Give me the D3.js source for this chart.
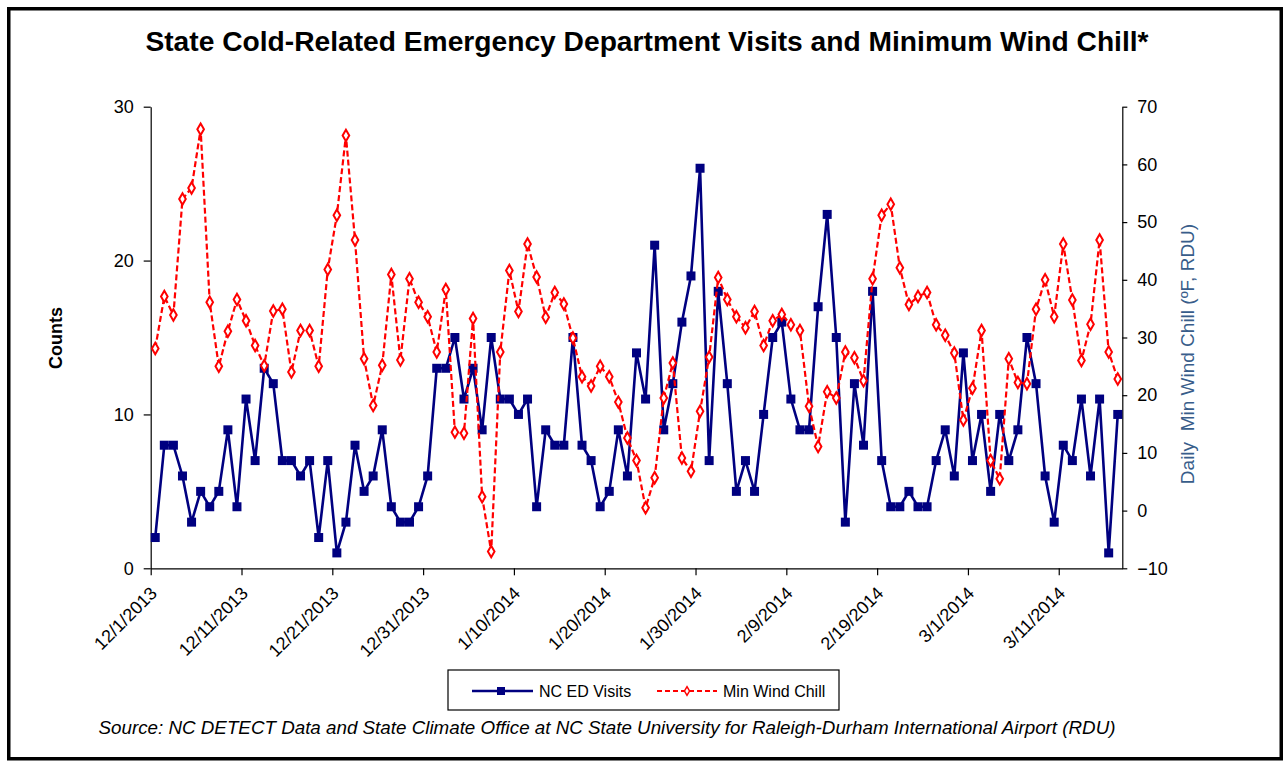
<!DOCTYPE html>
<html>
<head>
<meta charset="utf-8">
<script src="https://cdn.jsdelivr.net/npm/d3@7"></script>
<style>
  body { margin: 0; background: #fff; }
  text { font-family: "Liberation Sans", Arial, sans-serif; }
</style>
</head>
<body>
<div id="chart"></div>
<script>
var startDate = new Date(Date.UTC(2013, 11, 1));
var endDate = new Date(Date.UTC(2014, 2, 18));

var visits = [2, 8, 8, 6, 3, 5, 4, 5, 9, 4, 11, 7, 13, 12, 7, 7, 6, 7,
              2, 7, 1, 3, 8, 5, 6, 9, 4, 3, 3, 4, 6, 13, 13, 15, 11, 13,
              9, 15, 11, 11, 10, 11, 4, 9, 8, 8, 15, 8, 7, 4, 5, 9, 6,
              14, 11, 21, 9, 12, 16, 19, 26, 7, 18, 12, 5, 7, 5, 10, 15, 16, 11,
              9, 9, 17, 23, 15, 3, 12, 8, 18, 7, 4, 4, 5, 4, 4, 7, 9, 6,
              14, 7, 10, 5, 10, 7, 9, 15, 12, 6, 3, 8, 7, 11, 6, 11, 1, 10];

var windChill = [28.1, 37.1, 33.9, 54.0, 55.9, 66.1, 36.1, 25.0, 31.1, 36.6, 32.9, 28.6, 25.1, 34.6, 34.9, 24.0, 31.2, 31.2,
                 25.0, 41.8, 51.2, 65.0, 46.9, 26.3, 18.2, 25.2, 40.9, 26.1, 40.2, 36.1, 33.6, 27.5, 38.3, 13.6, 13.4, 33.3,
                 2.4, -7.1, 27.5, 41.6, 34.5, 46.2, 40.5, 33.5, 37.8, 35.8, 29.9, 23.2, 21.6, 25.0, 23.2, 18.8, 12.6,
                 8.7, 0.5, 5.7, 19.5, 25.6, 9.1, 6.8, 17.2, 26.6, 40.4, 36.6, 33.6, 31.7, 34.5, 28.6, 32.9, 34.0, 32.2,
                 31.2, 18.1, 11.1, 20.6, 19.5, 27.5, 26.5, 22.5, 40.2, 51.2, 53.1, 42.1, 35.7, 37.1, 37.8, 32.2, 30.4, 27.3,
                 15.7, 21.2, 31.2, 8.7, 5.5, 26.3, 22.2, 22.0, 34.9, 40.0, 33.6, 46.2, 36.5, 26.0, 32.3, 46.9, 27.5, 22.8];

var countTicks = [0, 10, 20, 30];
var chillTicks = [-10, 0, 10, 20, 30, 40, 50, 60, 70];
var seriesNames = ["NC ED Visits", "Min Wind Chill"];

var width = 1284, height = 761;
var plotLeft = 150.7, plotRight = 1122.3, plotTop = 106.7, plotBottom = 568.3;

// one point per day, drawn in the middle of its day slot
var days = visits.map(function (v, i) { return d3.utcHour.offset(d3.utcDay.offset(startDate, i), 12); });
var dateTicks = d3.utcDay.range(startDate, endDate).filter(function (d, i) { return i % 10 == 0; });

var x = d3.scaleUtc().domain([startDate, endDate]).range([plotLeft, plotRight]);
var yCount = d3.scaleLinear().domain([0, 30]).range([plotBottom, plotTop]);
var yChill = d3.scaleLinear().domain([-10, 70]).range([plotBottom, plotTop]);

var svg = d3.select("#chart").append("svg").attr("width", width).attr("height", height);

svg.append("rect").attr("x", 8.75).attr("y", 8.75).attr("width", 1272.5).attr("height", 750)
    .attr("fill", "#fff").attr("stroke", "#000").attr("stroke-width", 3.5);

svg.append("text").attr("x", 647).attr("y", 51).attr("text-anchor", "middle")
    .attr("font-size", "28.2px").attr("font-weight", "bold").text("State Cold-Related Emergency Department Visits and Minimum Wind Chill*");

var fmt = d3.utcFormat("%-m/%-d/%Y");

var xAxis = svg.append("g").attr("transform", "translate(0," + plotBottom + ")")
    .call(d3.axisBottom(x).tickValues(dateTicks).tickSize(7).tickSizeOuter(0).tickFormat(fmt));
xAxis.selectAll("text").attr("font-size", "18px").attr("fill", "#000")
    .attr("text-anchor", "end").attr("dy", null).attr("y", null)
    .attr("transform", "translate(7,26) rotate(-45)");

var yAxisL = svg.append("g").attr("transform", "translate(" + plotLeft + ",0)")
    .call(d3.axisLeft(yCount).tickValues(countTicks).tickSize(7).tickSizeOuter(0).tickPadding(10));
yAxisL.selectAll("text").attr("font-size", "18px").attr("fill", "#000");

var yAxisR = svg.append("g").attr("transform", "translate(" + plotRight + ",0)")
    .call(d3.axisRight(yChill).tickValues(chillTicks).tickSize(5).tickSizeOuter(0).tickPadding(10));
yAxisR.selectAll("text").attr("font-size", "18px").attr("fill", "#000");

svg.selectAll(".domain").attr("stroke", "#000").attr("stroke-width", 1.2);
svg.selectAll(".tick line").attr("stroke", "#000").attr("stroke-width", 1.2);

svg.append("text").attr("transform", "translate(62,338) rotate(-90)").attr("text-anchor", "middle")
    .attr("font-size", "18px").attr("font-weight", "bold").text("Counts");
svg.append("text").attr("transform", "translate(1194,354) rotate(-90)").attr("text-anchor", "middle")
    .attr("font-size", "19px").attr("fill", "#385D8A").attr("xml:space", "preserve").text("Daily  Min Wind Chill (ºF, RDU)");

var lineCount = d3.line().x(function (d, i) { return x(days[i]); }).y(function (d) { return yCount(d); });
var lineChill = d3.line().x(function (d, i) { return x(days[i]); }).y(function (d) { return yChill(d); });

svg.append("path").datum(visits).attr("d", lineCount)
    .attr("fill", "none").attr("stroke", "#000080").attr("stroke-width", 2.6);
svg.append("g").selectAll("rect").data(visits).enter().append("rect")
    .attr("x", function (d, i) { return x(days[i]) - 4.5; })
    .attr("y", function (d) { return yCount(d) - 4.5; })
    .attr("width", 9).attr("height", 9).attr("fill", "#000080");

svg.append("path").datum(windChill).attr("d", lineChill)
    .attr("fill", "none").attr("stroke", "#ff0000").attr("stroke-width", 2.2).attr("stroke-dasharray", "6,3");
var diamond = d3.symbol().type(d3.symbolDiamond).size(38);
svg.append("g").selectAll("path").data(windChill).enter().append("path")
    .attr("d", diamond)
    .attr("transform", function (d, i) { return "translate(" + x(days[i]) + "," + yChill(d) + ")"; })
    .attr("fill", "#fff").attr("stroke", "#ff0000").attr("stroke-width", 2);

// legend
var lg = svg.append("g");
lg.append("rect").attr("x", 448).attr("y", 670).attr("width", 391).attr("height", 40)
    .attr("fill", "#fff").attr("stroke", "#000").attr("stroke-width", 1.2);
lg.append("line").attr("x1", 472).attr("x2", 533).attr("y1", 691).attr("y2", 691)
    .attr("stroke", "#000080").attr("stroke-width", 2.5);
lg.append("rect").attr("x", 497).attr("y", 687).attr("width", 8).attr("height", 8).attr("fill", "#000080");
lg.append("text").attr("x", 539).attr("y", 697).attr("font-size", "16px").text(seriesNames[0]);
lg.append("line").attr("x1", 657).attr("x2", 717).attr("y1", 691).attr("y2", 691)
    .attr("stroke", "#ff0000").attr("stroke-width", 2).attr("stroke-dasharray", "5,3");
lg.append("path").attr("d", d3.symbol().type(d3.symbolDiamond).size(22)).attr("transform", "translate(687,691)")
    .attr("fill", "#fff").attr("stroke", "#ff0000").attr("stroke-width", 1.5);
lg.append("text").attr("x", 723).attr("y", 697).attr("font-size", "16px").text(seriesNames[1]);

svg.append("text").attr("x", 607).attr("y", 734).attr("text-anchor", "middle")
    .attr("font-size", "18.8px").attr("font-style", "italic")
    .text("Source: NC DETECT Data and State Climate Office at NC State University for Raleigh-Durham International Airport (RDU)");
</script>
</body>
</html>
